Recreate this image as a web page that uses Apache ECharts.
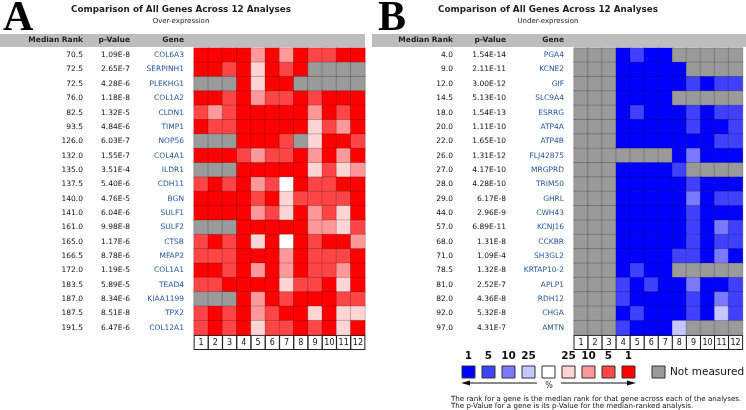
<!DOCTYPE html>
<html><head><meta charset="utf-8">
<script src="https://cdn.jsdelivr.net/npm/echarts@6/dist/echarts.min.js"></script>
<style>html,body{margin:0;padding:0;background:#fff}#c{width:746px;height:410px}</style>
</head><body><div id="c"></div>
<script>
// ---------- DATA ----------
const analyses = ['1','2','3','4','5','6','7','8','9','10','11','12'];

const overGenes = ['COL6A3','SERPINH1','PLEKHG1','COL1A2','CLDN1','TIMP1','NOP56','COL4A1','ILDR1','CDH11','BGN','SULF1','SULF2','CTSB','MFAP2','COL1A1','TEAD4','KIAA1199','TPX2','COL12A1'];
const overRanks = ['70.5','72.5','72.5','76.0','82.5','93.5','126.0','132.0','135.0','137.5','140.0','141.0','161.0','165.0','166.5','172.0','183.5','187.0','187.5','191.5'];
const overPValues = ['1.09E-8','2.65E-7','4.28E-6','1.18E-8','1.32E-5','4.84E-6','6.03E-7','1.55E-7','3.51E-4','5.40E-6','4.76E-5','6.04E-6','9.98E-8','1.17E-6','8.78E-6','1.19E-5','5.89E-5','8.34E-6','8.51E-8','6.47E-6'];
// rank percentile class per analysis: 1 = top 1%, 5 = top 5%, 10 = top 10%, 25 = top 25%, 0 = below, -1 = not measured
const overCells = [
  [1,1,1,1,10,1,10,1,5,5,1,1],
  [1,1,5,1,25,1,5,1,-1,-1,-1,-1],
  [-1,-1,-1,1,25,1,1,-1,-1,-1,-1,-1],
  [1,1,5,1,10,5,5,1,5,1,1,1],
  [5,10,5,1,1,1,1,1,10,1,5,1],
  [1,5,5,1,1,1,1,1,25,5,10,1],
  [-1,-1,-1,1,1,1,5,-1,25,1,1,5],
  [1,1,1,5,10,5,5,1,10,1,10,1],
  [-1,-1,-1,1,1,1,1,1,25,5,25,10],
  [5,1,5,1,10,5,0,1,5,5,1,1],
  [1,1,1,1,5,1,25,5,5,5,5,1],
  [1,1,1,1,10,5,25,1,10,5,25,1],
  [-1,-1,-1,1,1,1,1,1,10,10,25,5],
  [5,1,5,1,25,1,0,1,5,1,1,10],
  [5,5,5,1,1,1,10,1,5,5,5,1],
  [1,1,5,1,10,1,10,1,5,5,10,1],
  [5,5,1,1,1,1,25,5,5,1,25,1],
  [-1,-1,-1,1,10,1,5,1,1,1,5,5],
  [5,1,5,1,10,5,1,1,25,1,25,25],
  [5,1,5,1,25,5,5,1,5,1,25,1]
];

const underGenes = ['PGA4','KCNE2','GIF','SLC9A4','ESRRG','ATP4A','ATP4B','FLJ42875','MRGPRD','TRIM50','GHRL','CWH43','KCNJ16','CCKBR','SH3GL2','KRTAP10-2','APLP1','RDH12','CHGA','AMTN'];
const underRanks = ['4.0','9.0','12.0','14.5','18.0','20.0','22.0','26.0','27.0','28.0','29.0','44.0','57.0','68.0','71.0','78.5','81.0','82.0','92.0','97.0'];
const underPValues = ['1.54E-14','2.11E-11','3.00E-12','5.13E-10','1.54E-13','1.11E-10','1.65E-10','1.31E-12','4.17E-10','4.28E-10','6.17E-8','2.96E-9','6.89E-11','1.31E-8','1.09E-4','1.32E-8','2.52E-7','4.36E-8','5.32E-8','4.31E-7'];
const underCells = [
  [-1,-1,-1,1,5,1,1,-1,-1,-1,-1,-1],
  [-1,-1,-1,1,1,1,1,1,-1,-1,-1,-1],
  [-1,-1,-1,1,1,1,1,1,5,1,5,5],
  [-1,-1,-1,1,1,1,1,-1,-1,-1,-1,-1],
  [-1,-1,-1,1,5,1,1,1,5,1,5,5],
  [-1,-1,-1,1,1,1,1,1,5,1,1,5],
  [-1,-1,-1,1,1,1,1,1,1,1,5,5],
  [-1,-1,-1,-1,-1,-1,-1,1,10,1,1,1],
  [-1,-1,-1,1,1,1,1,5,-1,-1,-1,-1],
  [-1,-1,-1,1,1,1,1,1,5,1,1,1],
  [-1,-1,-1,1,1,1,1,1,10,1,5,5],
  [-1,-1,-1,1,1,1,1,1,5,1,1,1],
  [-1,-1,-1,1,1,1,1,1,5,1,10,5],
  [-1,-1,-1,1,1,1,1,1,5,1,5,5],
  [-1,-1,-1,1,1,1,1,5,5,1,10,1],
  [-1,-1,-1,1,5,1,1,-1,-1,-1,-1,-1],
  [-1,-1,-1,5,1,5,1,1,10,1,1,5],
  [-1,-1,-1,5,1,1,1,1,5,1,10,5],
  [-1,-1,-1,1,5,1,1,1,5,1,25,5],
  [-1,-1,-1,5,1,1,1,25,-1,-1,-1,-1]
];

const legendBlueLabels = ['1','5','10','25'];
const legendRedLabels = ['25','10','5','1'];

// ---------- STYLE ----------
const FONT = 'DejaVu Sans';
const GRAY = '#9a9a9a';
const redColors = {1:'#ff0000',5:'#ff4545',10:'#ff9898',25:'#ffd4d4',0:'#ffffff','-1':GRAY};
const blueColors = {1:'#0000ff',5:'#4040ff',10:'#7a7aff',25:'#c6c6ff',0:'#ffffff','-1':GRAY};

function toHeat(cells){
  const out=[];
  cells.forEach((row,r)=>row.forEach((v,c)=>out.push([c,r,v])));
  return out;
}
function pieces(map){
  return [-1,0,1,5,10,25].map(v=>({value:v,color:map[v]}));
}

const grids = [
  {left:194, top:48, width:171, height:287},
  {left:574, top:48, width:171, height:287}
];

function xAx(i){
  return {type:'category', gridIndex:i, data:analyses, position:'bottom',
    axisLine:{show:false}, axisTick:{show:false}, splitLine:{show:false},
    axisLabel:{interval:0, margin:1, fontFamily:FONT, fontSize:8, color:'#111',
      backgroundColor:'#fff', borderColor:'#222', borderWidth:1, width:13, height:13,
      lineHeight:13, align:'center', padding:0}};
}
function yAx(i, genes, ranks, pvals, w){
  return {type:'category', gridIndex:i, data:genes, inverse:true,
    axisLine:{show:false}, axisTick:{show:false}, splitLine:{show:false},
    axisLabel:{interval:0, margin:10, fontFamily:FONT, fontSize:7.5,
      formatter:(v,idx)=>'{r|'+ranks[idx]+'}{p|'+pvals[idx]+'}{g|'+v+'}',
      rich:{
        r:{width:w[0], align:'right', color:'#111', fontFamily:FONT, fontSize:7.5},
        p:{width:w[1], align:'right', color:'#111', fontFamily:FONT, fontSize:7.5},
        g:{width:w[2], align:'right', color:'#24579e', fontFamily:FONT, fontSize:7.5}
      }}};
}

// graphic elements (headers, titles, legend)
const g = [];
function txt(x,y,s,opt){ g.push({type:'text', x, y, style:Object.assign({text:s, fontFamily:FONT, fill:'#111', textVerticalAlign:'middle'},opt)}); }
function rect(x,y,w,h,fill,stroke){ g.push({type:'rect', shape:{x,y,width:w,height:h}, style:{fill, stroke:stroke||null, lineWidth:stroke?1:0}}); }

// panel letters
txt(3,19,'A',{fontFamily:'Liberation Serif', fontWeight:'bold', fontSize:42, fill:'#000'});
txt(378,19,'B',{fontFamily:'Liberation Serif', fontWeight:'bold', fontSize:42, fill:'#000'});
// titles
txt(181,10,'Comparison of All Genes Across 12 Analyses',{fontWeight:'bold', fontSize:8.8, textAlign:'center', fill:'#222'});
txt(181,21,'Over-expression',{fontSize:7, textAlign:'center', fill:'#222'});
txt(548,10,'Comparison of All Genes Across 12 Analyses',{fontWeight:'bold', fontSize:8.8, textAlign:'center', fill:'#222'});
txt(548,21,'Under-expression',{fontSize:7, textAlign:'center', fill:'#222'});
// header bars
rect(0,34,365,13,'#bdbdbd');
rect(372,34,374,13,'#bdbdbd');
const hs = {fontWeight:'bold', fontSize:7.5, textAlign:'right', fill:'#222'};
txt(83,40.5,'Median Rank',hs); txt(130,40.5,'p-Value',hs); txt(184,40.5,'Gene',hs);
txt(453,40.5,'Median Rank',hs); txt(506,40.5,'p-Value',hs); txt(564,40.5,'Gene',hs);

// legend
const swX = [462,482,502,522,542,562,582,602,622];
const swC = [blueColors[1],blueColors[5],blueColors[10],blueColors[25],'#ffffff',redColors[25],redColors[10],redColors[5],redColors[1]];
const swL = legendBlueLabels.concat(['']).concat(legendRedLabels);
swX.forEach((x,i)=>{
  rect(x,366,13,12,swC[i],'#333');
  if (swL[i]) txt(x+6.5,356,swL[i],{fontWeight:'bold', fontSize:10.5, textAlign:'center', fill:'#111'});
});
rect(652,366,13,12,GRAY,'#333');
txt(670,372,'Not measured',{fontSize:10.5, fill:'#111'});
// arrows
g.push({type:'line', shape:{x1:468,y1:383,x2:537,y2:383}, style:{stroke:'#111', lineWidth:1.2}});
g.push({type:'polygon', shape:{points:[[461,383],[470,380.5],[470,385.5]]}, style:{fill:'#111'}});
g.push({type:'line', shape:{x1:561,y1:383,x2:629,y2:383}, style:{stroke:'#111', lineWidth:1.2}});
g.push({type:'polygon', shape:{points:[[636,383],[627,380.5],[627,385.5]]}, style:{fill:'#111'}});
txt(549,386,'%',{fontSize:8, textAlign:'center', fill:'#333'});
// footnote
txt(451,399.5,'The rank for a gene is the median rank for that gene across each of the analyses.',{fontSize:7.1, fill:'#111'});
txt(451,406.5,'The p-Value for a gene is its p-Value for the median-ranked analysis.',{fontSize:7.1, fill:'#111'});

const chart = echarts.init(document.getElementById('c'), null, {renderer:'canvas'});
chart.setOption({
  animation:false,
  backgroundColor:'#ffffff',
  grid:grids,
  xAxis:[xAx(0), xAx(1)],
  yAxis:[yAx(0, overGenes, overRanks, overPValues, [60,47,54]), yAx(1, underGenes, underRanks, underPValues, [60,53,58])],
  visualMap:[
    {type:'piecewise', show:false, seriesIndex:0, dimension:2, pieces:pieces(redColors)},
    {type:'piecewise', show:false, seriesIndex:1, dimension:2, pieces:pieces(blueColors)}
  ],
  series:[
    {type:'heatmap', xAxisIndex:0, yAxisIndex:0, data:toHeat(overCells),
      itemStyle:{borderColor:'rgba(0,0,0,0.2)', borderWidth:1}, emphasis:{disabled:true}},
    {type:'heatmap', xAxisIndex:1, yAxisIndex:1, data:toHeat(underCells),
      itemStyle:{borderColor:'rgba(0,0,0,0.2)', borderWidth:1}, emphasis:{disabled:true}}
  ],
  graphic:g
});
</script></body></html>
